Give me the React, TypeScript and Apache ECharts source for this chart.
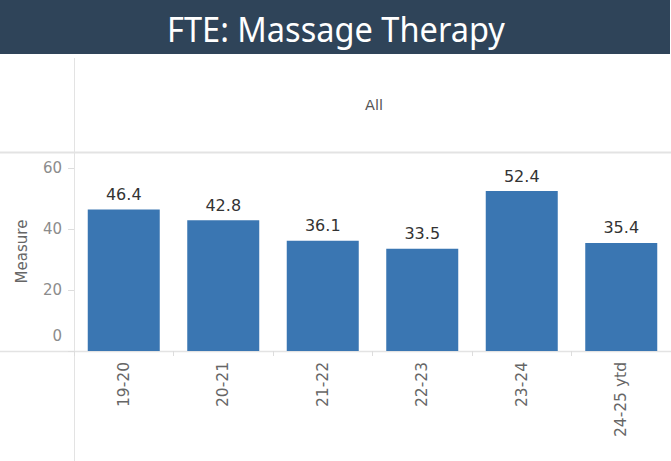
import React, { useEffect, useRef } from "react";
import * as echarts from "echarts";

const categories = ["19-20", "20-21", "21-22", "22-23", "23-24", "24-25 ytd"];
const values = [46.4, 42.8, 36.1, 33.5, 52.4, 35.4];
const titleText = "FTE: Massage Therapy";
const headerText = "All";
const yAxisName = "Measure";

const TITLE_FONT = "'Noto Sans', 'Open Sans', sans-serif";
const FONT = "'DejaVu Sans', 'Noto Sans', sans-serif";
const LINE = "#e3e3e3";

export default function App() {
  const ref = useRef<HTMLDivElement>(null);
  useEffect(() => {
    if (!ref.current) return;
    const chart = echarts.init(ref.current, undefined, { renderer: "svg" });
    chart.setOption({
      animation: false,
      backgroundColor: "#ffffff",
      grid: { left: 74, top: 152, width: 601, bottom: 110, containLabel: false },
      xAxis: {
        type: "category",
        data: categories,
        axisLine: { show: false },
        axisTick: { show: true, length: 5, lineStyle: { color: "#dddddd" } },
        axisLabel: {
          rotate: 90,
          margin: 11,
          color: "#666666",
          fontSize: 15.5,
          fontFamily: FONT,
        },
      },
      yAxis: {
        type: "value",
        min: 0,
        max: 65.2,
        interval: 20,
        name: yAxisName,
        nameLocation: "middle",
        nameGap: 45,
        nameTextStyle: { color: "#666666", fontSize: 15, fontFamily: FONT },
        axisLine: { show: false },
        axisTick: { show: true, length: 6, lineStyle: { color: "#dddddd" } },
        splitLine: { show: false },
        axisLabel: {
          showMaxLabel: false,
          margin: 12,
          color: "#8c8c8c",
          fontSize: 15,
          fontFamily: FONT,
          formatter: (v: number) => (v === 0 ? "{zero|0}" : String(v)),
          rich: {
            zero: { padding: [0, 0, 30, 0], color: "#8c8c8c", fontSize: 15, fontFamily: FONT },
          },
        },
      },
      series: [
        {
          type: "bar",
          data: values,
          barWidth: 72,
          itemStyle: { color: "#3a76b2" },
          label: {
            show: true,
            position: "top",
            distance: 7,
            color: "#333333",
            fontSize: 16,
            fontFamily: FONT,
            formatter: (p: any) => Number(p.value).toFixed(1),
          },
        },
      ],
      graphic: [
        { type: "rect", shape: { x: 0, y: 0, width: 670, height: 54 }, style: { fill: "#2f4459" }, silent: true },
        {
          type: "text",
          x: 336,
          y: 29,
          scaleX: 0.93,
          style: {
            text: titleText,
            fill: "#ffffff",
            fontSize: 35,
            fontFamily: TITLE_FONT,
            align: "center",
            verticalAlign: "middle",
          },
        },
        {
          type: "text",
          x: 374,
          y: 105,
          style: {
            text: headerText,
            fill: "#555555",
            fontSize: 14.5,
            fontFamily: FONT,
            align: "center",
            verticalAlign: "middle",
          },
        },
        { type: "line", shape: { x1: 74.5, y1: 58, x2: 74.5, y2: 461 }, style: { stroke: LINE, lineWidth: 1 } },
        { type: "line", shape: { x1: 0, y1: 152.5, x2: 671, y2: 152.5 }, style: { stroke: LINE, lineWidth: 2 } },
        { type: "line", shape: { x1: 0, y1: 351.5, x2: 671, y2: 351.5 }, style: { stroke: LINE, lineWidth: 1.5 } },
      ],
    });
    return () => chart.dispose();
  }, []);
  return (
    <div
      ref={ref}
      style={{ position: "fixed", left: 0, top: 0, width: 671, height: 461 }}
    />
  );
}
